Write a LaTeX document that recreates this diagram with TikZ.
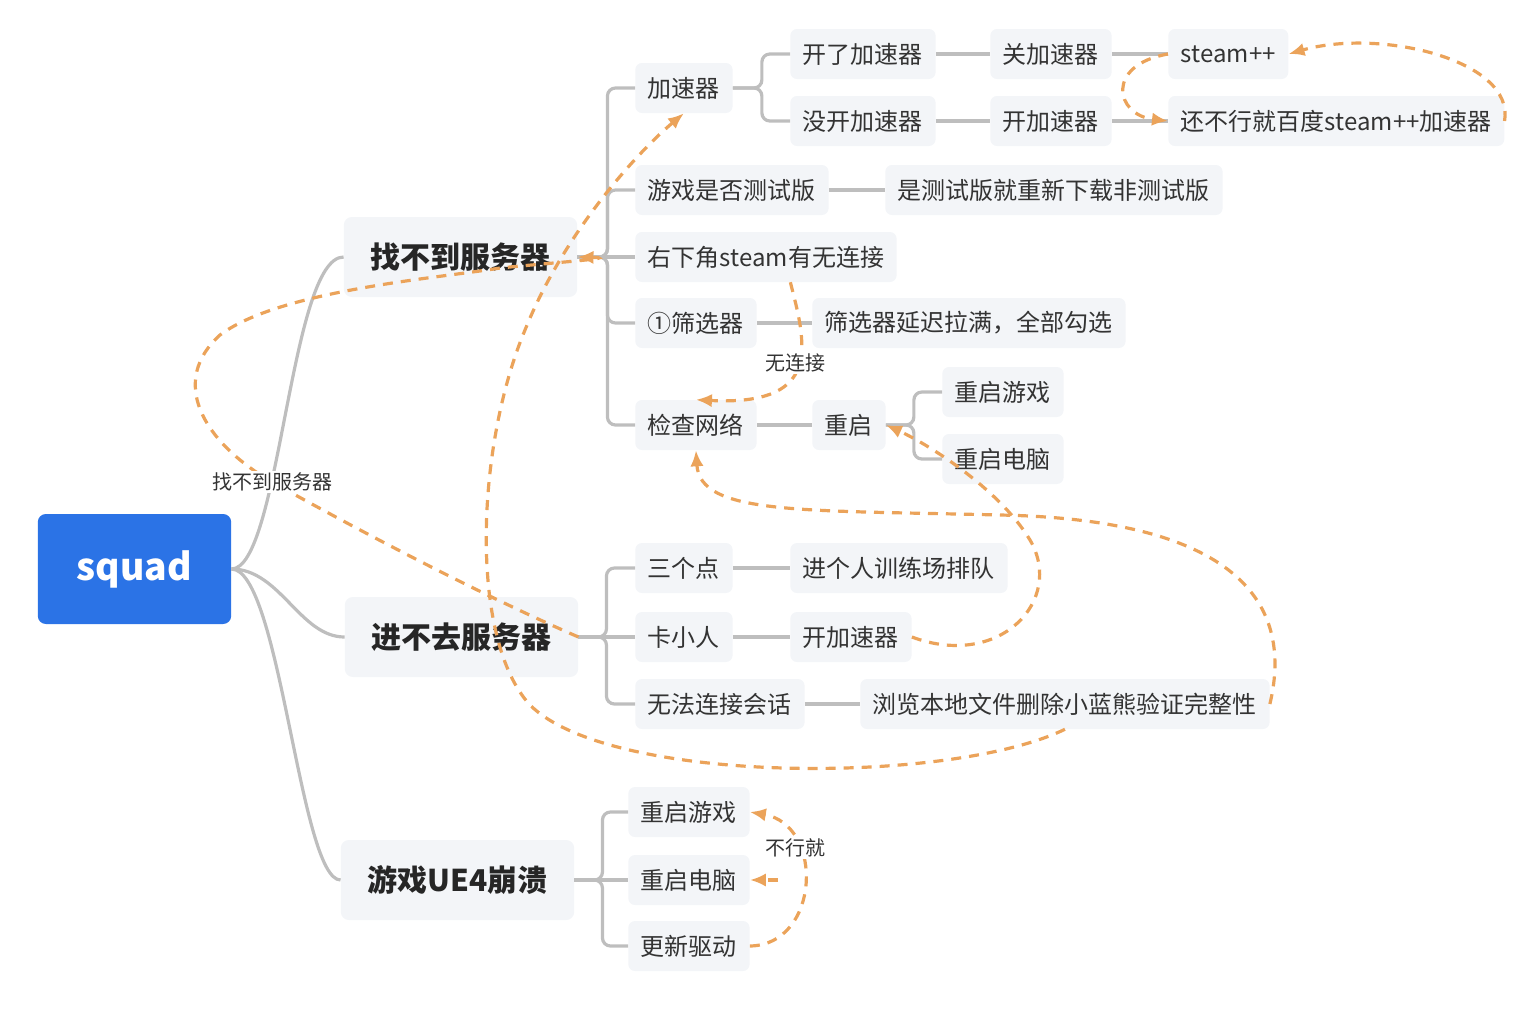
\documentclass[tikz,border=0pt]{standalone}
\usepackage{fontspec}
\setmainfont{Noto Sans CJK SC}
\usepackage{tikz}
\usetikzlibrary{arrows.meta}
\definecolor{boxgray}{RGB}{243,245,248}
\definecolor{linegray}{RGB}{190,190,190}
\definecolor{flowor}{RGB}{235,163,90}
\definecolor{squadblue}{RGB}{43,115,230}
\definecolor{txtgray}{RGB}{51,51,51}

\begin{document}
\begin{tikzpicture}[x=0.75pt,y=0.75pt,yscale=-1,xscale=1,
    leaf/.style={fill=boxgray,rounded corners=5pt,text=txtgray,inner xsep=9.5pt,minimum height=37.5pt,font=\fontsize{18}{22}\selectfont},
    topic/.style={fill=boxgray,rounded corners=6pt,text=black!85,inner xsep=20pt,minimum height=60pt,font=\fontsize{22.5}{26}\selectfont\bfseries},
    root/.style={fill=squadblue,rounded corners=6pt,text=white,minimum width=145pt,minimum height=82.5pt,font=\fontsize{28}{32}\selectfont\bfseries},
    branch/.style={draw=linegray,line width=2.4pt,rounded corners=6pt},
    flow/.style={draw=flowor,line width=2.4pt,dash pattern=on 7.5pt off 6pt,-{Latex[length=12pt,width=10pt]}},
    note/.style={fill=white,inner sep=1pt,text=txtgray,font=\fontsize{15}{18}\selectfont}]
    \useasboundingbox (0,0) rectangle (1523,1021);

    % Root and topics
    \node[root] (sq) at (134.5,569) {squad};
    \node[topic] (zb) at (460.5,257) {找不到服务器};
    \node[topic] (jb) at (461.5,637) {进不去服务器};
    \node[topic] (ue) at (457.5,880) {游戏UE4崩溃};

    % Text Node: 找不到服务器
    \node[leaf,anchor=west] (js) at (635,88) {加速器};
    \node[leaf,anchor=west] (cs) at (635,190) {游戏是否测试版};
    \node[leaf,anchor=west] (yx) at (635,257) {右下角steam有无连接};
    \node[leaf,anchor=west] (sx) at (635,323) {①筛选器};
    \node[leaf,anchor=west] (jw) at (635,425) {检查网络};
    \node[leaf,anchor=west] (kl) at (790,54) {开了加速器};
    \node[leaf,anchor=west] (mk) at (790,121) {没开加速器};
    \node[leaf,anchor=west] (gj) at (990,54) {关加速器};
    \node[leaf,anchor=west] (kj) at (990,121) {开加速器};
    \node[leaf,anchor=west] (st) at (1168,54) {steam++};
    \node[leaf,anchor=west] (hb) at (1168,121) {还不行就百度steam++加速器};
    \node[leaf,anchor=west] (cx) at (885,190) {是测试版就重新下载非测试版};
    \node[leaf,anchor=west] (yc) at (812,323) {筛选器延迟拉满，全部勾选};
    \node[leaf,anchor=west] (cq) at (812,425) {重启};
    \node[leaf,anchor=west] (cy) at (942,392) {重启游戏};
    \node[leaf,anchor=west] (cn) at (942,459) {重启电脑};

    % Text Node: 进不去服务器
    \node[leaf,anchor=west] (sg) at (635,568) {三个点};
    \node[leaf,anchor=west] (kx) at (635,637) {卡小人};
    \node[leaf,anchor=west] (wf) at (635,704) {无法连接会话};
    \node[leaf,anchor=west] (xl) at (790,568) {进个人训练场排队};
    \node[leaf,anchor=west] (kd) at (790,637) {开加速器};
    \node[leaf,anchor=west] (ll) at (860,704) {浏览本地文件删除小蓝熊验证完整性};

    % Text Node: 游戏UE4崩溃
    \node[leaf,anchor=west] (uy) at (628,812) {重启游戏};
    \node[leaf,anchor=west] (un) at (628,880) {重启电脑};
    \node[leaf,anchor=west] (gq) at (628,946) {更新驱动};

    % Branches
    \draw[branch] (sq.east) .. controls (280,569) and (290,257) .. (zb.west);
    \draw[branch] (sq.east) .. controls (280,569) and (300,637) .. (jb.west);
    \draw[branch] (sq.east) .. controls (280,569) and (300,880) .. (ue.west);

    \draw[branch] (zb.east) -- ++(30,0) |- (js.west);
    \draw[branch] (zb.east) -- ++(30,0) |- (cs.west);
    \draw[branch] (zb.east) -- (yx.west);
    \draw[branch] (zb.east) -- ++(30,0) |- (sx.west);
    \draw[branch] (zb.east) -- ++(30,0) |- (jw.west);
    \draw[branch] (js.east) -- ++(29,0) |- (kl.west);
    \draw[branch] (js.east) -- ++(29,0) |- (mk.west);
    \draw[branch] (kl.east) -- (gj.west);
    \draw[branch] (gj.east) -- (st.west);
    \draw[branch] (mk.east) -- (kj.west);
    \draw[branch] (kj.east) -- (hb.west);
    \draw[branch] (cs.east) -- (cx.west);
    \draw[branch] (sx.east) -- (yc.west);
    \draw[branch] (jw.east) -- (cq.west);
    \draw[branch] (cq.east) -- ++(28,0) |- (cy.west);
    \draw[branch] (cq.east) -- ++(28,0) |- (cn.west);

    \draw[branch] (jb.east) -- ++(28,0) |- (sg.west);
    \draw[branch] (jb.east) -- (kx.west);
    \draw[branch] (jb.east) -- ++(28,0) |- (wf.west);
    \draw[branch] (sg.east) -- (xl.west);
    \draw[branch] (kx.east) -- (kd.west);
    \draw[branch] (wf.east) -- (ll.west);

    \draw[branch] (ue.east) -- ++(28,0) |- (uy.west);
    \draw[branch] (ue.east) -- (un.west);
    \draw[branch] (ue.east) -- ++(28,0) |- (gq.west);

    % Relations
    \draw[flow] (jb.east) .. controls (470,590) and (340,520) .. (272,482) .. controls (200,440) and (170,380) .. (220,335) .. controls (280,290) and (440,278) .. (500,268) .. controls (560,262) and (620,258) .. (zb.east);
    \node[note] (lz) at (272,482) {找不到服务器};
    \draw[flow] (ll.south) .. controls (950,785) and (610,785) .. (530,705) .. controls (470,640) and (475,450) .. (525,330) .. controls (565,230) and (640,150) .. (js.south);
    \draw[flow] (ll.east) .. controls (1290,620) and (1260,520) .. (1000,515) .. controls (800,510) and (700,515) .. (jw.south);
    \draw[flow] (kd.east) .. controls (1000,670) and (1065,600) .. (1030,540) .. controls (1000,490) and (930,445) .. (cq.east);
    \draw[flow] (yx.-46) .. controls (800,320) and (808,350) .. (795,375) .. controls (780,400) and (740,402) .. (jw.north);
    \node[note] (wl) at (795,363) {无连接};
    \draw[flow] (st.west) .. controls (1105,65) and (1115,115) .. (hb.west);
    \draw[flow] (hb.east) .. controls (1515,60) and (1380,28) .. (st.east);
    \draw[flow] (gq.east) .. controls (820,945) and (825,825) .. (uy.east);
    \node[note] (bx) at (795,848) {不行就};
    \coordinate (gm) at (778,880);
    \draw[flow] (gm) -- (un.east);

\end{tikzpicture}
\end{document}
